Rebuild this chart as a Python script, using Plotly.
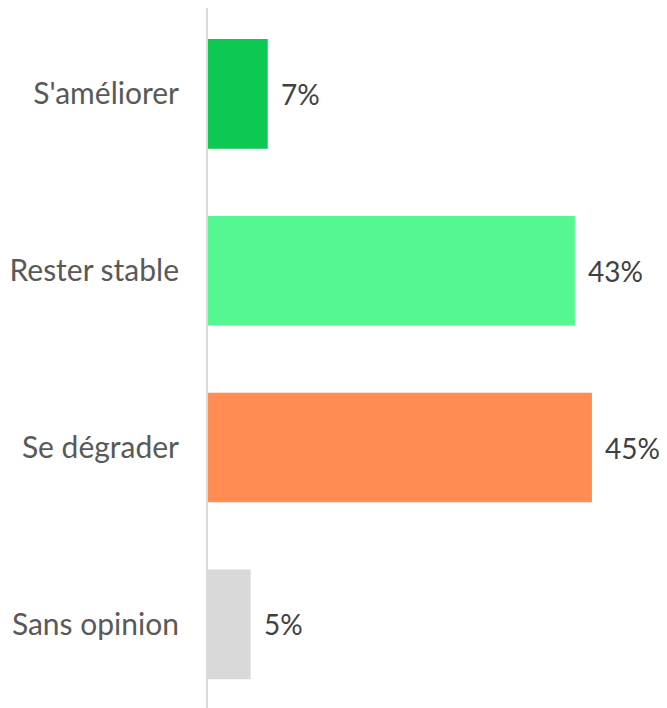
import plotly.graph_objects as go

categories = ["S'améliorer", "Rester stable", "Se dégrader", "Sans opinion"]
values = [7, 43, 45, 5]
colors = ["#0DC852", "#55F791", "#FF8C52", "#D9D9D9"]

fig = go.Figure(go.Bar(
    x=values,
    y=categories,
    orientation="h",
    marker=dict(color=colors, line=dict(width=0)),
    width=0.62,
    hoverinfo="skip",
))

# value labels to the right of each bar
for cat, v in zip(categories, values):
    fig.add_annotation(
        x=v, y=cat, text=f"{v}%", showarrow=False,
        xanchor="left", xshift=11,
        font=dict(family="Lato, sans-serif", size=28, color="#404040"),
    )

# page body adds ~8px offset, so the figure is a bit smaller than the window
fig.update_xaxes(range=[0, 53.8], visible=False)
fig.update_yaxes(
    range=[3.473, -0.486],
    showline=True, linecolor="#D9D9D9", linewidth=2,
    showgrid=False, zeroline=False, ticks="",
    ticklabelstandoff=21,
    tickfont=dict(family="Lato, sans-serif", size=30, color="#595959"),
)
fig.update_layout(
    width=659, height=700,
    margin=dict(l=200, r=0, t=0, b=0),
    plot_bgcolor="white", paper_bgcolor="white",
    showlegend=False,
)

fig.write_html("out.html")
